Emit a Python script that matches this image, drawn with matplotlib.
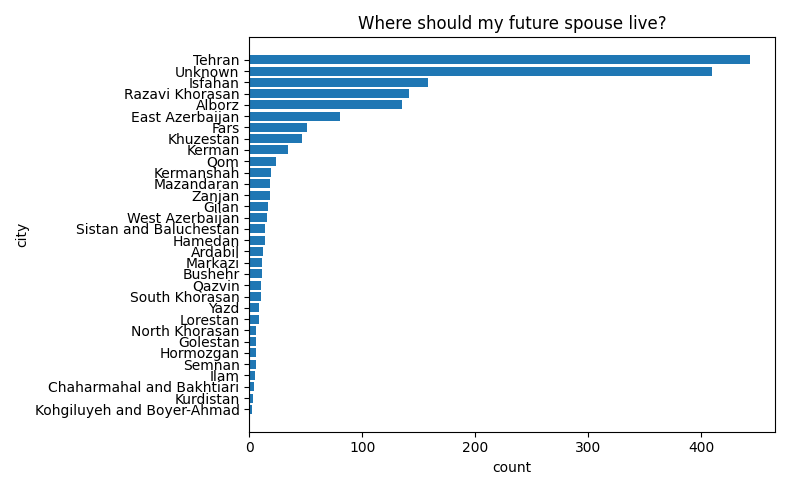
import matplotlib
matplotlib.use("Agg")
import matplotlib.pyplot as plt

cities = ["Tehran","Unknown","Isfahan","Razavi Khorasan","Alborz","East Azerbaijan","Fars","Khuzestan",
          "Kerman","Qom","Kermanshah","Mazandaran","Zanjan","Gilan","West Azerbaijan","Sistan and Baluchestan",
          "Hamedan","Ardabil","Markazi","Bushehr","Qazvin","South Khorasan","Yazd","Lorestan","North Khorasan",
          "Golestan","Hormozgan","Semnan","Ilam","Chaharmahal and Bakhtiari","Kurdistan","Kohgiluyeh and Boyer-Ahmad"]
counts = [443,409,158,141,135,80,51,47,34,24,19,18,18,17,16,14,14,12,11,11,10,10,9,9,6,6,6,6,5,4,3,2]

fig, ax = plt.subplots(figsize=(7.9, 4.9), dpi=100)
ax.barh(cities[::-1], counts[::-1], color="#1f77b4")
ax.set_xlabel("count")
ax.set_ylabel("city")
ax.set_title("Where should my future spouse live?")
fig.tight_layout()
fig.savefig("out.png")
